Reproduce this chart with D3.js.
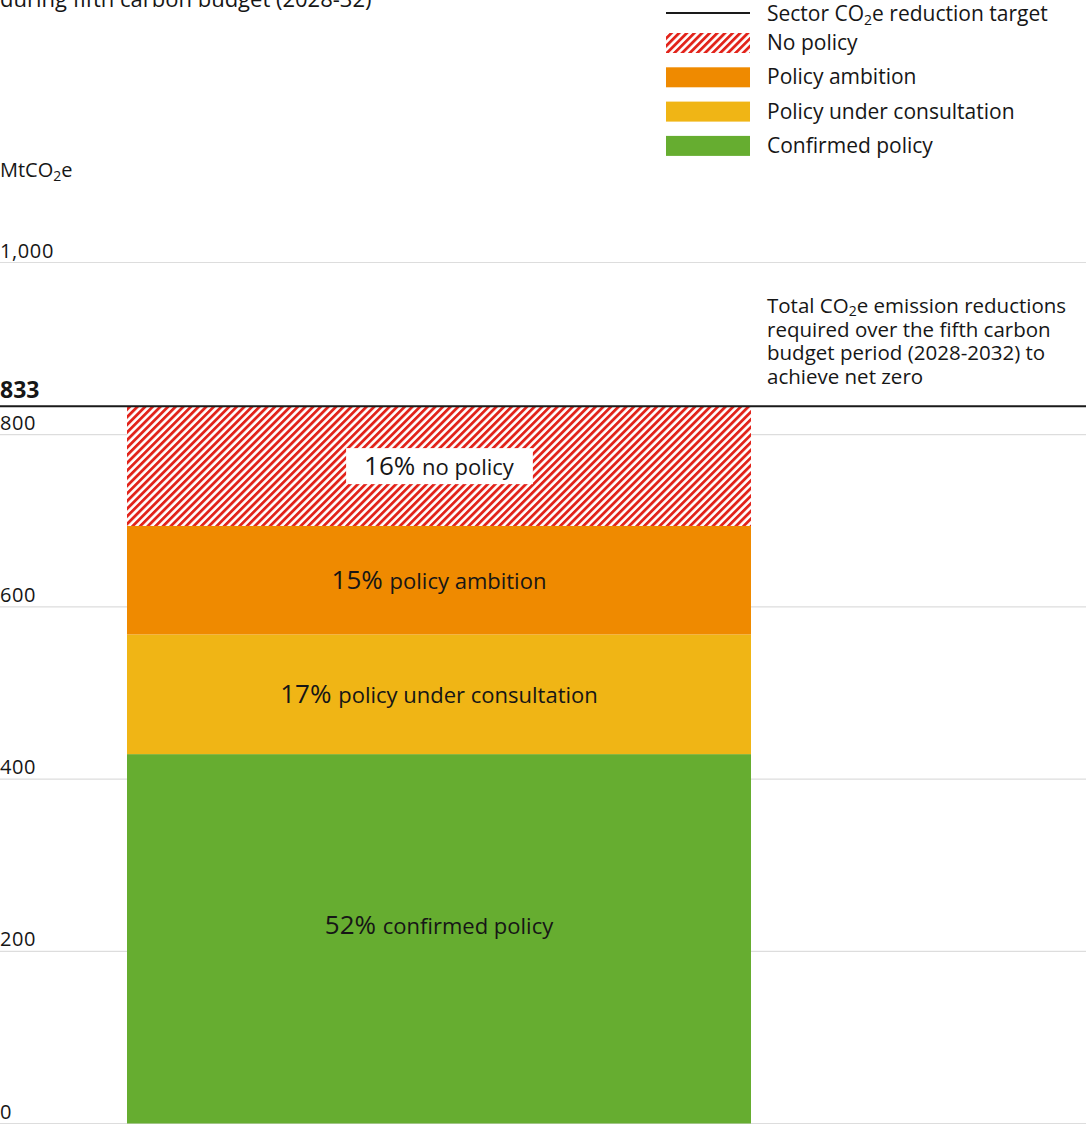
<!DOCTYPE html>
<html>
<head>
<meta charset="utf-8">
<script src="https://cdn.jsdelivr.net/npm/d3@7"></script>
<style>
  body { margin: 0; background: #fff; }
  svg { display: block; font-family: "Open Sans", "Noto Sans", sans-serif; }
  text { fill: #161616; }
</style>
</head>
<body>
<svg id="chart" width="1086" height="1125"></svg>
<script>
// ---- data ----
const categories = ["Fifth carbon budget (2028-32)"];
const segmentKeys = ["confirmed", "consultation", "ambition", "nopolicy"];
const segmentValues = [429, 139, 126, 139];           // MtCO2e
const segmentPercents = ["52%", "17%", "15%", "16%"];
const segmentLabels = ["confirmed policy", "policy under consultation", "policy ambition", "no policy"];
const legendLabels = ["No policy", "Policy ambition", "Policy under consultation", "Confirmed policy"];
const targetValue = 833;
const yTicks = [0, 200, 400, 600, 800, 1000];

const colors = { confirmed: "#66ad30", consultation: "#f0b515", ambition: "#ef8a00", nopolicy: "url(#hatch)" };
const hatchRed = "#e2231a";

const W = 1086, H = 1125;
const svg = d3.select("#chart");

// hatch pattern
const defs = svg.append("defs");
const pat = defs.append("pattern")
  .attr("id", "hatch").attr("patternUnits", "userSpaceOnUse")
  .attr("width", 5.4).attr("height", 5.4)
  .attr("patternTransform", "rotate(45)");
pat.append("rect").attr("width", 5.4).attr("height", 5.4).attr("fill", "#fff");
pat.append("line").attr("x1", 0).attr("y1", 0).attr("x2", 0).attr("y2", 5.4)
  .attr("stroke", hatchRed).attr("stroke-width", 5.6);

// scales
const y = d3.scaleLinear().domain([0, 1000]).range([1123.5, 262.5]);
const x = d3.scaleBand().domain(categories).range([127, 751]).padding(0);

// title (cut off at top)
svg.append("text").attr("x", 0).attr("y", 7).attr("font-size", 22)
  .text("during fifth carbon budget (2028-32)");

// unit label
const unit = svg.append("text").attr("x", 0).attr("y", 177).attr("font-size", 20);
unit.append("tspan").text("MtCO");
unit.append("tspan").attr("font-size", 14).attr("dy", 4).text("2");
unit.append("tspan").attr("dy", -4).text("e");

// gridlines + tick labels
const fmt = d3.format(",");
const grid = svg.append("g");
grid.selectAll("line").data(yTicks).join("line")
  .attr("x1", 0).attr("x2", W)
  .attr("y1", d => y(d)).attr("y2", d => y(d))
  .attr("stroke", "#dddddd").attr("stroke-width", 1.2);
grid.selectAll("text").data(yTicks).join("text")
  .attr("x", 0).attr("y", d => y(d) - 5)
  .attr("font-size", 20).attr("fill", "#2a2a2a")
  .attr("letter-spacing", 0.6)
  .text(d => fmt(d));

// stacked bar
const stackData = [Object.fromEntries(segmentKeys.map((k, i) => [k, segmentValues[i]]))];
const series = d3.stack().keys(segmentKeys)(stackData);
const barG = svg.append("g");
barG.selectAll("rect").data(series).join("rect")
  .attr("x", x(categories[0]))
  .attr("width", x.bandwidth())
  .attr("y", d => y(d[0][1]))
  .attr("height", d => y(d[0][0]) - y(d[0][1]))
  .attr("fill", d => colors[d.key]);

// target line
svg.append("line").attr("x1", 0).attr("x2", W)
  .attr("y1", y(targetValue)).attr("y2", y(targetValue))
  .attr("stroke", "#1a1a1a").attr("stroke-width", 2);
svg.append("text").attr("x", 0).attr("y", y(targetValue) - 8)
  .attr("font-size", 23).attr("font-weight", "bold").text(targetValue);

// bar labels
const cx = x(categories[0]) + x.bandwidth() / 2;
series.forEach((s, i) => {
  const mid = (s[0][0] + s[0][1]) / 2;
  let yy = y(mid);
  if (s.key === "confirmed") yy -= 14;
  const g = svg.append("g");
  const t = g.append("text").attr("x", cx).attr("y", yy + 9).attr("text-anchor", "middle");
  t.append("tspan").attr("font-size", 26).text(segmentPercents[i] + " ");
  t.append("tspan").attr("font-size", 22).text(segmentLabels[i]);
  if (s.key === "nopolicy") {
    const bb = t.node().getBBox();
    g.insert("rect", "text")
      .attr("x", bb.x - 18).attr("y", yy - 18)
      .attr("width", bb.width + 36).attr("height", 36)
      .attr("fill", "#fff");
  }
});

// annotation
const ann = ["Total CO|2|e emission reductions", "required over the fifth carbon", "budget period (2028-2032) to", "achieve net zero"];
ann.forEach((line, i) => {
  const t = svg.append("text").attr("x", 767).attr("y", 313 + i * 23.6).attr("font-size", 20.5);
  if (i === 0) {
    t.append("tspan").text("Total CO");
    t.append("tspan").attr("font-size", 14).attr("dy", 3).text("2");
    t.append("tspan").attr("dy", -3).text("e emission reductions");
  } else {
    t.text(line);
  }
});

// legend
const lg = svg.append("g");
lg.append("line").attr("x1", 666).attr("x2", 750).attr("y1", 13).attr("y2", 13)
  .attr("stroke", "#1a1a1a").attr("stroke-width", 2);
const lt = lg.append("text").attr("x", 767).attr("y", 21).attr("font-size", 21);
lt.append("tspan").text("Sector CO");
lt.append("tspan").attr("font-size", 14).attr("dy", 4).text("2");
lt.append("tspan").attr("dy", -4).text("e reduction target");
const legendKeys = ["nopolicy", "ambition", "consultation", "confirmed"];
legendKeys.forEach((k, i) => {
  const yy = 33 + i * 34.3;
  lg.append("rect").attr("x", 666).attr("y", yy).attr("width", 84).attr("height", 20)
    .attr("fill", colors[k]);
  lg.append("text").attr("x", 767).attr("y", yy + 17).attr("font-size", 21).text(legendLabels[i]);
});
</script>
</body>
</html>
